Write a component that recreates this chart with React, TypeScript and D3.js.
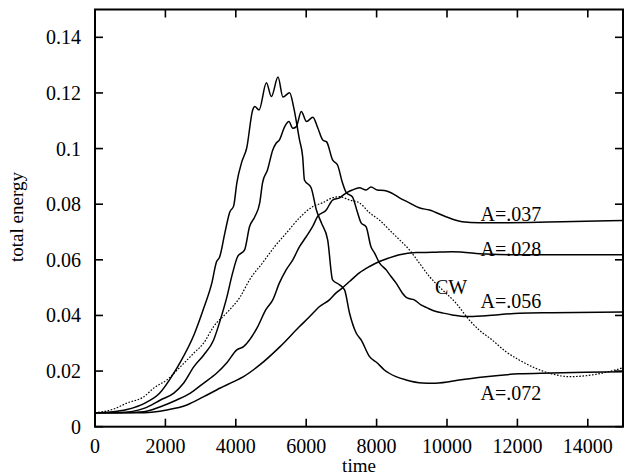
import React from "react";
import * as d3 from "d3";

const xTicks = [0, 2000, 4000, 6000, 8000, 10000, 12000, 14000];
const yTicks = [0, 0.02, 0.04, 0.06, 0.08, 0.1, 0.12, 0.14];
const yTickLabels = ["0", "0.02", "0.04", "0.06", "0.08", "0.1", "0.12", "0.14"];

const curveA072: [number, number][] = [
  [0, 0.005], [430, 0.0053], [910, 0.0062], [1420, 0.0085], [1840, 0.0121], [2150, 0.0175],
  [2440, 0.0236], [2810, 0.033], [3090, 0.0427], [3320, 0.0517], [3450, 0.0592], [3540, 0.061],
  [3690, 0.0697], [3830, 0.0772], [3940, 0.0794], [4030, 0.0877], [4170, 0.0952], [4310, 0.1002],
  [4480, 0.1139], [4540, 0.1151], [4660, 0.1139], [4870, 0.1237], [5010, 0.1187], [5200, 0.1257],
  [5340, 0.1185], [5530, 0.1201], [5640, 0.1151], [5810, 0.1031], [5900, 0.097], [5950, 0.0887],
  [6140, 0.0859], [6290, 0.0779], [6430, 0.0733], [6610, 0.0672], [6750, 0.0528], [6950, 0.051],
  [7090, 0.0492], [7230, 0.0409], [7420, 0.0337], [7560, 0.0312], [7800, 0.0252], [8020, 0.0229],
  [8220, 0.0204], [8550, 0.018], [8840, 0.0168], [9300, 0.0157], [9580, 0.0156], [10060, 0.0162],
  [10350, 0.0168], [11100, 0.018], [12050, 0.019], [12980, 0.0193], [13940, 0.0196], [15000, 0.0198],
];

const curveA056: [number, number][] = [
  [0, 0.005], [710, 0.0051], [1390, 0.0066], [1860, 0.0096], [2240, 0.0121], [2520, 0.0157],
  [2810, 0.0216], [3090, 0.0258], [3370, 0.0312], [3560, 0.0384], [3740, 0.0463], [3910, 0.0553],
  [4050, 0.0611], [4250, 0.0636], [4390, 0.0719], [4540, 0.0755], [4680, 0.0805], [4760, 0.0877],
  [4900, 0.0923], [5050, 0.0995], [5150, 0.102], [5240, 0.1031], [5390, 0.1079], [5510, 0.1097],
  [5620, 0.1073], [5720, 0.1079], [5860, 0.1133], [6010, 0.1097], [6190, 0.1113], [6330, 0.1074],
  [6470, 0.1031], [6580, 0.1024], [6750, 0.0959], [6890, 0.0941], [7030, 0.0877], [7140, 0.0841],
  [7310, 0.0827], [7460, 0.0769], [7560, 0.0733], [7700, 0.0719], [7840, 0.0647], [7940, 0.0625],
  [8080, 0.0589], [8270, 0.0564], [8410, 0.054], [8550, 0.0517], [8730, 0.0481], [8870, 0.0463],
  [9070, 0.0456], [9260, 0.0438], [9440, 0.0427], [9690, 0.0414], [9870, 0.0409], [10150, 0.0402],
  [10540, 0.0396], [11100, 0.0399], [12050, 0.0408], [12980, 0.041], [15000, 0.0412],
];

const curveCW: [number, number][] = [
  [0, 0.005], [540, 0.0064], [910, 0.0085], [1390, 0.0108], [1670, 0.0139], [2040, 0.0168],
  [2430, 0.0216], [2810, 0.0265], [3090, 0.0301], [3370, 0.036], [3740, 0.0409], [4130, 0.0468],
  [4390, 0.0528], [4760, 0.0589], [5100, 0.0647], [5440, 0.0697], [5810, 0.0751], [6180, 0.0791],
  [6460, 0.0805], [6750, 0.0823], [6950, 0.0827], [7230, 0.0815], [7510, 0.0805], [7800, 0.0769],
  [8080, 0.0743], [8360, 0.0708], [8650, 0.0672], [8930, 0.0636], [9210, 0.0589], [9500, 0.054],
  [9870, 0.0492], [10250, 0.0445], [10630, 0.0384], [10910, 0.0348], [11280, 0.0312], [11670, 0.027],
  [12050, 0.024], [12520, 0.021], [12980, 0.019], [13470, 0.018], [14120, 0.0186], [14600, 0.0198],
  [15000, 0.0212],
];

const curveA037: [number, number][] = [
  [0, 0.005], [710, 0.005], [1390, 0.0054], [1860, 0.0072], [2320, 0.0096], [2710, 0.0121],
  [3090, 0.0157], [3460, 0.0193], [3740, 0.0229], [4030, 0.0276], [4220, 0.0288], [4620, 0.0359],
  [4850, 0.042], [5050, 0.0456], [5240, 0.0517], [5430, 0.0564], [5620, 0.06], [5810, 0.0647],
  [6000, 0.0683], [6180, 0.0719], [6320, 0.0755], [6570, 0.0779], [6750, 0.0815], [6950, 0.0823],
  [7140, 0.0841], [7310, 0.0851], [7510, 0.0859], [7700, 0.0851], [7840, 0.0862], [8020, 0.0851],
  [8220, 0.0849], [8410, 0.0841], [8650, 0.0823], [8930, 0.0805], [9210, 0.0787], [9500, 0.0779],
  [9970, 0.0755], [10430, 0.0737], [10910, 0.0733], [11390, 0.0733], [12330, 0.0734], [13270, 0.0737],
  [15000, 0.0741],
];

const curveA028: [number, number][] = [
  [0, 0.005], [1390, 0.005], [2040, 0.006], [2610, 0.0078], [3090, 0.0108], [3560, 0.0139],
  [3940, 0.0162], [4220, 0.018], [4680, 0.0222], [5250, 0.0287], [5810, 0.036], [6100, 0.0396],
  [6380, 0.0432], [6660, 0.0456], [6850, 0.0481], [7030, 0.0499], [7230, 0.0522], [7510, 0.0553],
  [7800, 0.0576], [8080, 0.0594], [8360, 0.0607], [8650, 0.0618], [9120, 0.0626], [9580, 0.0627],
  [10150, 0.0629], [11100, 0.0621], [12050, 0.0618], [15000, 0.0618],
];

const seriesList = [
  { name: "A=.072", data: curveA072, dashed: false },
  { name: "A=.056", data: curveA056, dashed: false },
  { name: "CW", data: curveCW, dashed: true },
  { name: "A=.037", data: curveA037, dashed: false },
  { name: "A=.028", data: curveA028, dashed: false },
];

const curveLabels = [
  { text: "A=.037", t: 10950, e: 0.074 },
  { text: "A=.028", t: 10950, e: 0.0615 },
  { text: "CW", t: 9660, e: 0.0477 },
  { text: "A=.056", t: 10950, e: 0.0427 },
  { text: "A=.072", t: 10950, e: 0.0096 },
];

const W = 624;
const H = 475;
const M = { left: 95, right: 623, top: 9.5, bottom: 426.7 };
const FONT = "Liberation Serif, Times New Roman, Tinos, DejaVu Serif, serif";

export default function App() {
  const x = d3.scaleLinear().domain([0, 15000]).range([M.left, M.right]);
  const y = d3.scaleLinear().domain([0, 0.15]).range([M.bottom, M.top]);
  const line = d3
    .line<[number, number]>()
    .x((d) => x(d[0]))
    .y((d) => y(d[1]))
    .curve(d3.curveMonotoneX);
  const tickLen = 8;
  const textStyle: React.CSSProperties = { fontFamily: FONT };

  return (
    <div style={{ position: "fixed", left: 0, top: 0 }}>
      <svg width={W} height={H} style={{ display: "block", background: "#fff", fontFamily: FONT }}>
        <rect x={0} y={0} width={W} height={H} fill="#fff" />
        {seriesList.map((s) => (
          <path
            key={s.name}
            d={line(s.data) || ""}
            fill="none"
            stroke="#000"
            strokeWidth={s.dashed ? 1.2 : 1.5}
            strokeDasharray={s.dashed ? "1.6,1.6" : undefined}
          />
        ))}
        <rect
          x={M.left}
          y={M.top}
          width={M.right - M.left}
          height={M.bottom - M.top}
          fill="none"
          stroke="#000"
          strokeWidth={2}
        />
        {xTicks.map((t) => (
          <g key={"xt" + t}>
            <line x1={x(t)} x2={x(t)} y1={M.bottom} y2={M.bottom - tickLen} stroke="#000" strokeWidth={1.6} />
            <line x1={x(t)} x2={x(t)} y1={M.top} y2={M.top + tickLen} stroke="#000" strokeWidth={1.6} />
            <text x={x(t)} y={453} textAnchor="middle" style={textStyle} fontSize={20} fill="#000">
              {String(t)}
            </text>
          </g>
        ))}
        {yTicks.map((v, i) => (
          <g key={"yt" + i}>
            <line x1={M.left} x2={M.left + tickLen} y1={y(v)} y2={y(v)} stroke="#000" strokeWidth={1.6} />
            <line x1={M.right} x2={M.right - tickLen} y1={y(v)} y2={y(v)} stroke="#000" strokeWidth={1.6} />
            <text x={81} y={y(v) + 7} textAnchor="end" style={textStyle} fontSize={20} fill="#000">
              {yTickLabels[i]}
            </text>
          </g>
        ))}
        <text x={359} y={472} textAnchor="middle" style={textStyle} fontSize={19} fill="#000">
          time
        </text>
        <text
          transform={`translate(23,217) rotate(-90)`}
          textAnchor="middle"
          style={textStyle}
          fontSize={19}
          fill="#000"
        >
          total energy
        </text>
        {curveLabels.map((l) => (
          <text key={l.text} x={x(l.t)} y={y(l.e)} style={textStyle} fontSize={20} fill="#000">
            {l.text}
          </text>
        ))}
      </svg>
    </div>
  );
}
